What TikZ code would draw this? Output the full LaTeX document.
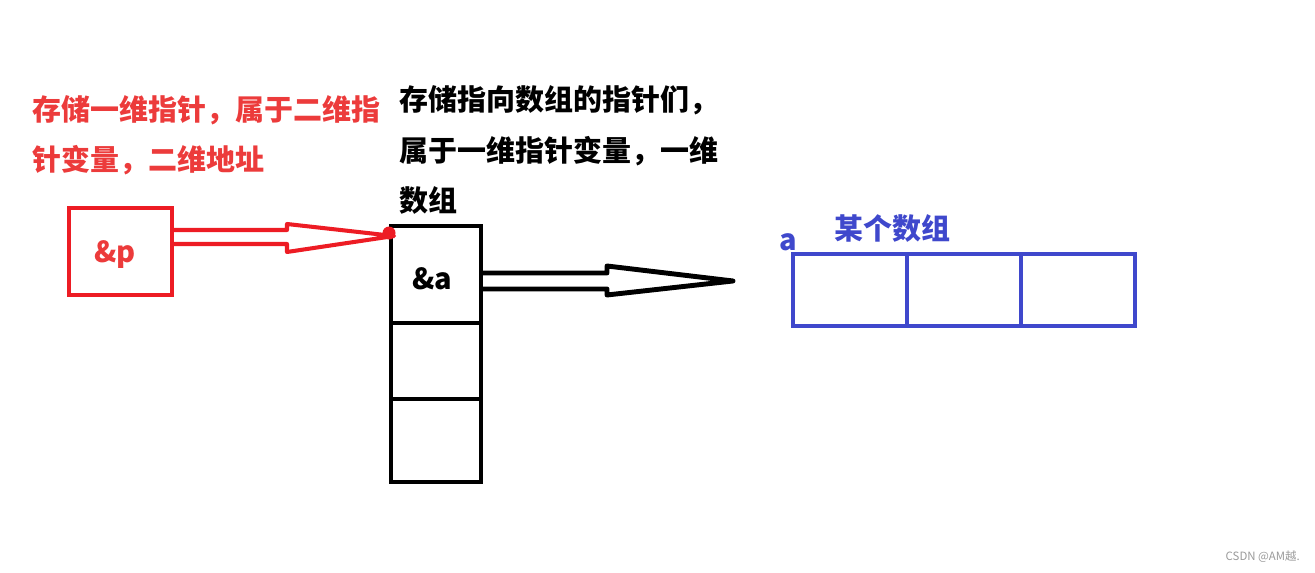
\documentclass[tikz,border=0pt]{standalone}
\usepackage{fontspec}
\setmainfont{Noto Sans CJK SC}
\usepackage{tikz}
\usetikzlibrary{calc, positioning}
\definecolor{pRed}{HTML}{ED1C24}
\definecolor{pTxtRed}{HTML}{EC3B3B}
\definecolor{pBlue}{HTML}{3F48CC}
\definecolor{pGray}{HTML}{9A9A9A}

\begin{document}
\begin{tikzpicture}[x=0.02cm, y=-0.02cm, every node/.style={font=\bfseries\fontsize{16.5}{28.5}\selectfont}]
    \useasboundingbox (0,0) rectangle (1315,573);
    % pointer to pointer
    \node[draw=pRed, line width=2.3pt, minimum width=2.06cm, minimum height=1.74cm, text=pTxtRed] (pp) at (120.5,251.5) {};
    \node[text=pTxtRed] at (pp) [xshift=-3pt, yshift=-2pt] {\&p};
    \node[anchor=west, align=left, text=pTxtRed] (ptxt) at (26,135) {存储一维指针，属于二维指\\针变量，二维地址};
    % column of pointers
    \foreach \n/\y/\h in {cellA/274.5/1.94, cellB/361/1.52, cellC/440.5/1.66}
      \node[draw, line width=2.8pt, outer sep=0pt, minimum width=1.8cm, minimum height=\h cm] (\n) at (436,\y) {};
    \node at (cellA) [xshift=-2pt, yshift=-2.5pt] {\&a};
    \node[anchor=west, align=left] (atxt) at (393,150) {存储指向数组的指针们，\\属于一维指针变量，一维\\数组};
    % the array
    \foreach \n/\x in {b1/850, b2/964, b3/1078}
      \node[draw=pBlue, line width=2.4pt, outer sep=0pt, minimum width=2.28cm, minimum height=1.44cm] (\n) at (\x,290) {};
    \node[text=pBlue, anchor=base] (alab) at (788,251) {a};
    \node[text=pBlue, anchor=south west] (arrtxt) at (828,249) {某个数组};
    % hollow arrows
    \coordinate (rs) at (pp.east |- 0,237);
    \coordinate (rt) at ($(cellA.north west)+(3,10)$);
    \draw[pRed, line width=2.3pt, line join=round]
      ($(rs)+(0,-7)$) -- ($(rs)+(113,-7)$) -- ($(rs)+(113,-13)$) -- (rt)
      -- ($(rs)+(113,15)$) -- ($(rs)+(113,7)$) -- ($(rs)+(0,7)$);
    \fill[pRed] ($(cellA.north west)+(-2,7)$) circle (6.5);
    \coordinate (bs) at (cellA.east |- 0,281);
    \coordinate (bt) at (733,281);
    \draw[line width=2.8pt, line join=round]
      ($(bs)+(0,-8)$) -- ($(bs)+(126,-8)$) -- ($(bs)+(126,-15)$) -- (bt)
      -- ($(bs)+(126,14)$) -- ($(bs)+(126,8)$) -- ($(bs)+(0,8)$);
    \node[text=pGray, anchor=east, font=\fontsize{6.5}{8}\selectfont] (mark) at (1306,557) {CSDN @AM越.};
  \end{tikzpicture}
\end{document}
